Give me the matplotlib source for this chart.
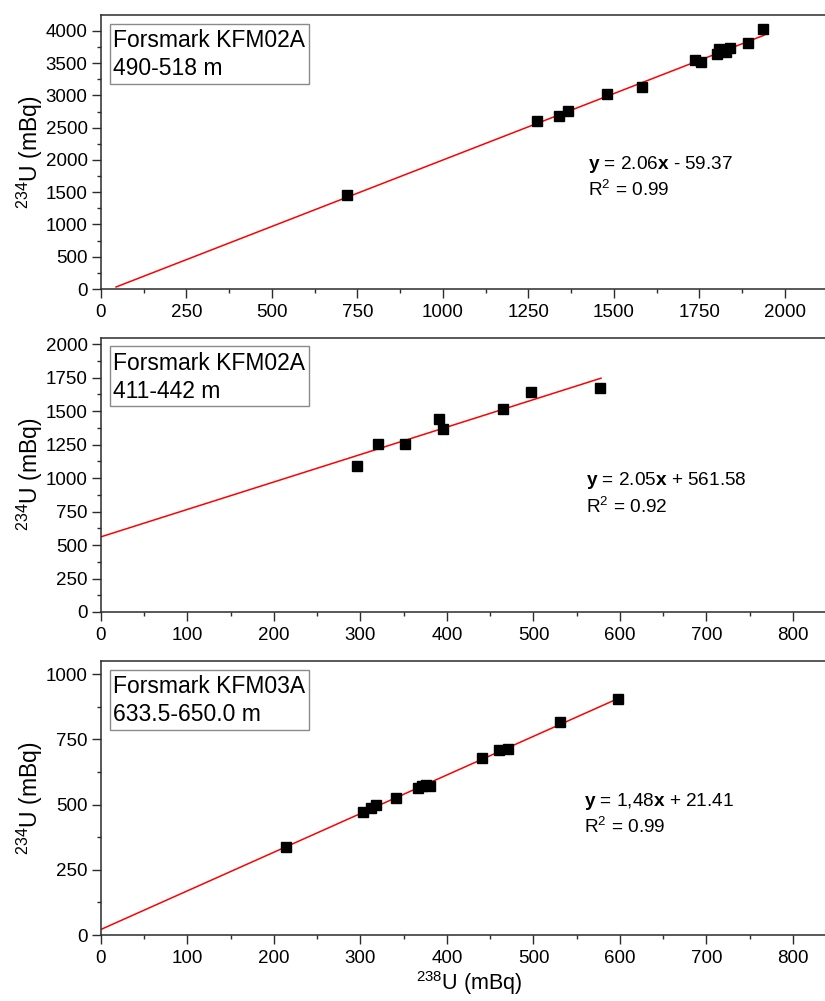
import matplotlib
matplotlib.use("Agg")
import matplotlib.pyplot as plt
from matplotlib.ticker import MultipleLocator
from matplotlib.patches import Rectangle
import numpy as np

plt.rcParams['font.family'] = ['Liberation Sans', 'DejaVu Sans']
plt.rcParams['mathtext.fontset'] = 'custom'
plt.rcParams['mathtext.rm'] = 'Liberation Sans'
plt.rcParams['mathtext.it'] = 'Liberation Sans:italic'
plt.rcParams['mathtext.bf'] = 'Liberation Sans:bold'

# ---------------- data ----------------
titles = ["Forsmark KFM02A\n490-518 m", "Forsmark KFM02A\n411-442 m", "Forsmark KFM03A\n633.5-650.0 m"]

u238_a = [720, 1274, 1340, 1366, 1479, 1582, 1736, 1754, 1800, 1808, 1828, 1838, 1893, 1937]
u234_a = [1457, 2609, 2682, 2760, 3018, 3127, 3550, 3524, 3650, 3715, 3680, 3741, 3809, 4026]

u238_b = [296, 320, 352, 391, 395, 465, 497, 577]
u234_b = [1091, 1256, 1253, 1440, 1368, 1517, 1644, 1676]

u238_c = [214, 303, 312, 318, 341, 366, 371, 376, 380, 440, 460, 470, 531, 598]
u234_c = [338, 470, 488, 497, 526, 563, 570, 575, 572, 677, 709, 714, 816, 904]

slopes = [2.06, 2.05, 1.48]
intercepts = [-59.37, 561.58, 21.41]
fit_x_start = [44, 0, 0]
fit_x_end = [1940, 578, 598]

eq_texts = [r"$\mathbf{y}$ = 2.06$\mathbf{x}$ - 59.37",
            r"$\mathbf{y}$ = 2.05$\mathbf{x}$ + 561.58",
            r"$\mathbf{y}$ = 1,48$\mathbf{x}$ + 21.41"]
r2_texts = [r"R$^2$ = 0.99", r"R$^2$ = 0.92", r"R$^2$ = 0.99"]

xlims = [(0, 2117), (0, 837), (0, 837)]
ylims = [(0, 4248), (0, 2049), (0, 1050)]
x_major = [250, 100, 100]
x_minor = [125, 50, 50]
y_major = [500, 250, 250]
y_minor = [250, 125, 125]

xs = [u238_a, u238_b, u238_c]
ys = [u234_a, u234_b, u234_c]

# ---------------- layout ----------------
W, H = 825, 1001
fig = plt.figure(figsize=(W / 100, H / 100), dpi=100)

# (top_px, bottom_px)
panels_px = [(15, 289), (337.7, 612), (661, 935)]
left_px = 101
eq_pos = [(0.673, 0.4526, 0.361), (0.670, 0.4776, 0.384), (0.667, 0.4865, 0.395)]

spine_col = '#2b2b2b'

for i in range(3):
    top, bot = panels_px[i]
    ax = fig.add_axes([left_px / W, 1 - bot / H, 1 - left_px / W, (bot - top) / H])
    hpx = bot - top
    wpx = W - left_px

    ax.set_xlim(*xlims[i])
    ax.set_ylim(*ylims[i])
    ax.xaxis.set_major_locator(MultipleLocator(x_major[i]))
    ax.xaxis.set_minor_locator(MultipleLocator(x_minor[i]))
    ax.yaxis.set_major_locator(MultipleLocator(y_major[i]))
    ax.yaxis.set_minor_locator(MultipleLocator(y_minor[i]))

    for s in ['left', 'bottom', 'top']:
        ax.spines[s].set_color(spine_col)
        ax.spines[s].set_linewidth(1.1)
    ax.spines['right'].set_visible(False)

    ax.tick_params(which='both', direction='out', top=False, right=False, color=spine_col, width=1.0)
    ax.tick_params(which='major', length=6.2, labelsize=13.5)
    ax.tick_params(which='minor', length=3.2)
    ax.tick_params(axis='x', which='major', pad=4.5)
    ax.tick_params(axis='y', which='major', pad=3.5)

    # fit line
    fx = np.array([fit_x_start[i], fit_x_end[i]])
    ax.plot(fx, slopes[i] * fx + intercepts[i], color='#ff0000', lw=1.1, zorder=2)
    # data
    ax.plot(xs[i], ys[i], linestyle='none', marker='s', markersize=7.2,
            color='black', zorder=3)

    # title box
    bx0 = 9 / wpx
    bw = 199 / wpx
    btop = 1 - 8.5 / hpx
    bh = 60 / hpx
    ax.add_patch(Rectangle((bx0, btop - bh), bw, bh, transform=ax.transAxes,
                           fill=False, edgecolor='#8a8a8a', lw=1.0, zorder=4))
    l1, l2 = titles[i].split("\n")
    ax.text(12 / wpx, 1 - 25.5 / hpx, l1, transform=ax.transAxes, fontsize=16.5,
            ha='left', va='center', zorder=5)
    ax.text(12 / wpx, 1 - 53.5 / hpx, l2, transform=ax.transAxes, fontsize=16.5,
            ha='left', va='center', zorder=5)

    ex, ey1, ey2 = eq_pos[i]
    ax.text(ex, ey1, eq_texts[i], transform=ax.transAxes, fontsize=13.7, ha='left', va='center')
    ax.text(ex, ey2, r2_texts[i], transform=ax.transAxes, fontsize=13.7, ha='left', va='center')

    ax.set_ylabel(r"$^{234}$U (mBq)", fontsize=16.5)
    ax.yaxis.set_label_coords(-0.077, 0.5)
    if i == 2:
        ax.set_xlabel(r"$^{238}$U (mBq)", fontsize=15.5)
        ax.xaxis.set_label_coords(0.508, -0.126)

fig.savefig("out.png", dpi=100)
